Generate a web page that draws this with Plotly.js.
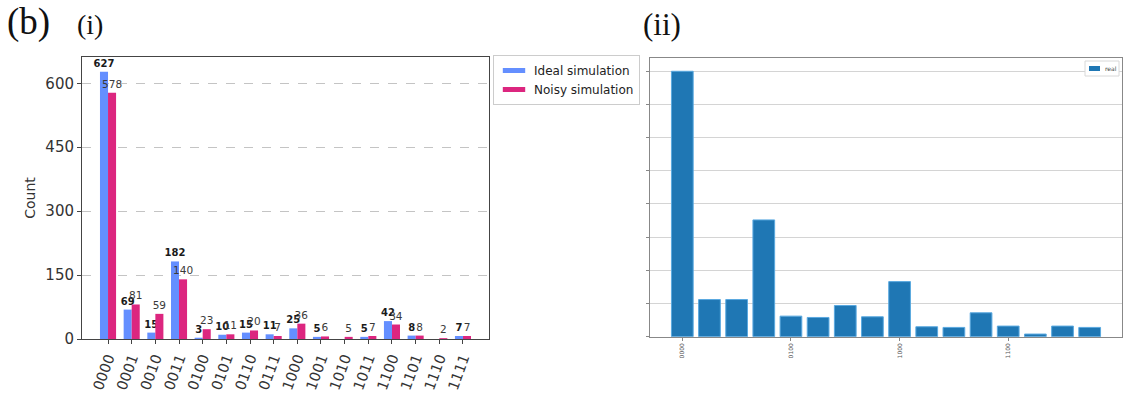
<!DOCTYPE html>
<html>
<head>
<meta charset="utf-8">
<script src="https://cdn.plot.ly/plotly-3.0.1.min.js"></script>
<style>html,body{margin:0;padding:0;background:#fff;}#chart{width:1130px;height:399px;}</style>
</head>
<body>
<div id="chart"></div>
<script>
// ---- data ----
var states = ['0000','0001','0010','0011','0100','0101','0110','0111','1000','1001','1010','1011','1100','1101','1110','1111'];
var idealCounts = [627,69,15,182,3,10,15,11,25,5,0,5,42,8,0,7];
var noisyCounts = [578,81,59,140,23,11,20,7,36,6,5,7,34,8,2,7];
var realCounts  = [400,56,56,176,31,29,47,30,83,15,14,36,16,4,16,14];
var realTickLabels = ['0000','0100','1000','1100'];
var yTicksLeft = [0,150,300,450,600];
var yTicksRight = [0,50,100,150,200,250,300,350,400];
var seriesNames = ['Ideal simulation','Noisy simulation','real'];
var colors = ['#648fff','#dc267f','#1f77b4'];

var W = 1130, H = 399;
function px(x){ return x / W; }
function py(y){ return 1 - y / H; }
function lbl(arr){ return arr.map(function(v){ return v > 0 ? String(v) : ''; }); }

var traces = [
  {
    type: 'bar', name: seriesNames[0], x: states, y: idealCounts,
    xaxis: 'x', yaxis: 'y', offset: -0.34, width: 0.34,
    marker: {color: colors[0]}, showlegend: false,
    text: lbl(idealCounts), textposition: 'outside', constraintext: 'none', cliponaxis: false,
    textfont: {family: 'DejaVu Sans', size: 10, color: '#1a1a1a', weight: 'bold'},
    hoverinfo: 'none'
  },
  {
    type: 'bar', name: seriesNames[1], x: states, y: noisyCounts,
    xaxis: 'x', yaxis: 'y', offset: 0, width: 0.34,
    marker: {color: colors[1]}, showlegend: false,
    text: lbl(noisyCounts), textposition: 'outside', constraintext: 'none', cliponaxis: false,
    textfont: {family: 'DejaVu Sans', size: 10.5, color: '#3a3a3a'},
    hoverinfo: 'none'
  },
  {
    type: 'bar', name: seriesNames[2], x: states, y: realCounts,
    xaxis: 'x2', yaxis: 'y2', offset: -0.4, width: 0.8,
    marker: {color: colors[2], line: {color: '#5aa9e0', width: 1}},
    showlegend: false, hoverinfo: 'none'
  },
  // legend entries (wide flat patches like the reference)
  {
    type: 'scatter', mode: 'markers', name: seriesNames[0], x: [null], y: [null],
    xaxis: 'x', yaxis: 'y', legend: 'legend',
    marker: {symbol: 'line-ew', size: 16, line: {color: colors[0], width: 7}}
  },
  {
    type: 'scatter', mode: 'markers', name: seriesNames[1], x: [null], y: [null],
    xaxis: 'x', yaxis: 'y', legend: 'legend',
    marker: {symbol: 'line-ew', size: 16, line: {color: colors[1], width: 7}}
  }
];

var layout = {
  width: W, height: H,
  margin: {l: 0, r: 0, t: 0, b: 0},
  paper_bgcolor: '#fff', plot_bgcolor: '#fff',
  font: {family: 'DejaVu Sans', color: '#222'},
  barmode: 'overlay',
  showlegend: true,
  xaxis: {
    domain: [px(82), px(489)], anchor: 'y',
    type: 'category', categoryorder: 'array', categoryarray: states,
    range: [-1.1, 16.1],
    showline: true, mirror: true, linecolor: '#444', linewidth: 1,
    ticks: 'outside', ticklen: 4, tickcolor: '#444',
    tickangle: -70, tickfont: {size: 14.5, color: '#333'},
    showgrid: false, zeroline: false
  },
  yaxis: {
    domain: [py(339), py(57)], anchor: 'x',
    range: [0, 661.7],
    tickvals: yTicksLeft,
    showline: true, mirror: true, linecolor: '#444', linewidth: 1,
    ticks: 'outside', ticklen: 4, tickcolor: '#444',
    tickfont: {size: 15, color: '#333'},
    showgrid: true, gridcolor: '#c4c4c4', griddash: 'dash', gridwidth: 1,
    zeroline: false,
    title: {text: 'Count', font: {size: 14, color: '#333'}, standoff: 6}
  },
  xaxis2: {
    domain: [px(650), px(1122)], anchor: 'y2',
    type: 'category', categoryorder: 'array', categoryarray: states,
    range: [-1.19, 16.19],
    tickvals: realTickLabels, ticktext: realTickLabels,
    showline: true, mirror: true, linecolor: '#888', linewidth: 1,
    ticks: 'outside', ticklen: 3, tickcolor: '#888',
    tickangle: -90, tickfont: {size: 6, color: '#555'},
    showgrid: false, zeroline: false
  },
  yaxis2: {
    domain: [py(336.7), py(58)], anchor: 'x2',
    range: [0, 420],
    tickvals: yTicksRight, showticklabels: false,
    showline: true, mirror: true, linecolor: '#888', linewidth: 1,
    ticks: 'outside', ticklen: 3, tickcolor: '#888',
    showgrid: true, gridcolor: '#d4d4d4', gridwidth: 1,
    zeroline: false
  },
  legend: {
    x: px(493), y: py(55), xanchor: 'left', yanchor: 'top',
    bgcolor: '#fff', bordercolor: '#ccc', borderwidth: 1,
    font: {size: 12, color: '#222'}, tracegroupgap: 0
  },
  shapes: [
    // legend box of panel (ii)
    {type: 'rect', xref: 'paper', yref: 'paper', x0: px(1085), x1: px(1119), y0: py(76), y1: py(61),
     line: {color: '#d8d8d8', width: 1}, fillcolor: '#fff'},
    {type: 'rect', xref: 'paper', yref: 'paper', x0: px(1089), x1: px(1100), y0: py(71), y1: py(66),
     line: {width: 0}, fillcolor: colors[2]}
  ],
  annotations: [
    {text: seriesNames[2], xref: 'paper', yref: 'paper', x: px(1103), y: py(68.5), xanchor: 'left', yanchor: 'middle',
     showarrow: false, font: {size: 6, color: '#444'}},
    {text: '(b)', xref: 'paper', yref: 'paper', x: px(5), y: py(22), xanchor: 'left', yanchor: 'middle',
     showarrow: false, font: {family: 'Liberation Serif', size: 37, color: '#111'}},
    {text: '(i)', xref: 'paper', yref: 'paper', x: px(75), y: py(24), xanchor: 'left', yanchor: 'middle',
     showarrow: false, font: {family: 'Liberation Serif', size: 28, color: '#111'}},
    {text: '(ii)', xref: 'paper', yref: 'paper', x: px(641), y: py(25), xanchor: 'left', yanchor: 'middle',
     showarrow: false, font: {family: 'Liberation Serif', size: 31, color: '#111'}}
  ]
};

Plotly.newPlot('chart', traces, layout, {displayModeBar: false, staticPlot: true});
</script>
</body>
</html>
